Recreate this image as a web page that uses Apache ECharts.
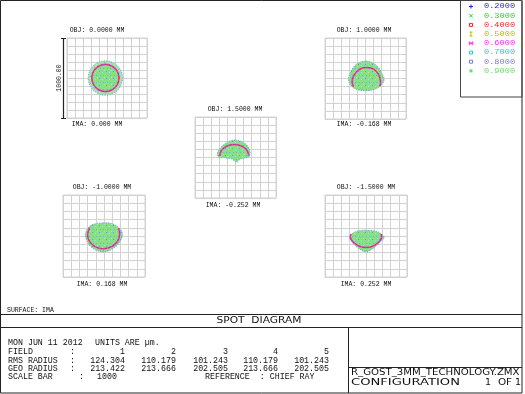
<!DOCTYPE html>
<html><head><meta charset="utf-8">
<script src="https://cdn.jsdelivr.net/npm/echarts@6/dist/echarts.min.js"></script>
<style>html,body{margin:0;padding:0;background:#fff}#c{width:525px;height:394px}</style>
</head><body><div id="c"></div>
<script>
// ---------- data ----------
const wavelengths = ['0.2000','0.3000','0.4000','0.5000','0.6000','0.7000','0.8000','0.9000'];
const fieldNumbers = ['1','2','3','4','5'];
const fieldObj = ['0.0000','1.0000','1.5000','-1.0000','-1.5000'];
const fieldIma = ['0.000','-0.168','-0.252','0.168','0.252'];
const rmsRadius = ['124.304','110.179','101.243','110.179','101.243'];
const geoRadius = ['213.422','213.666','202.505','213.666','202.505'];
const scaleBar = '1000';
const scaleBarLabel = '1000.00';
// spot outlines / inner rings in micrometres relative to chief ray
const outline1 = [[195,0],[166,108],[88,186],[-20,215],[-128,186],[-206,108],[-235,0],[-206,-108],[-128,-186],[-20,-215],[88,-186],[166,-108]];
const ring1 = [[150,0],[127,85],[65,147],[-20,170],[-105,147],[-167,85],[-190,0],[-167,-85],[-105,-147],[-20,-170],[65,-147],[127,-85]];
const outline2 = [[0,215],[-90,190],[-155,130],[-200,40],[-210,-20],[-180,-85],[-110,-135],[0,-150],[110,-135],[190,-90],[230,-20],[215,40],[165,130],[95,190]];
const ring2 = [[-150,-100],[-165,-30],[-130,60],[-60,120],[20,135],[100,115],[160,50],[185,-30],[180,-95]];
const outline3 = [[-5,215],[-80,200],[-150,155],[-200,100],[-225,50],[-205,5],[-120,-5],[-40,-20],[10,-60],[60,-20],[130,-5],[170,10],[180,70],[155,135],[115,175],[55,205]];
const ring3 = [[-195,20],[-175,85],[-110,140],[-10,160],[80,140],[140,90],[165,25]];
const outline4 = [[-10,160],[90,153],[170,112],[225,30],[195,-70],[112,-153],[-10,-195],[-133,-153],[-206,-70],[-226,30],[-182,112],[-110,148]];
const ring4 = [[-175,100],[-200,20],[-180,-60],[-110,-130],[-10,-155],[100,-125],[170,-55],[190,20],[180,95]];
const outline5 = [[-2,70],[92,63],[165,40],[222,-18],[173,-71],[112,-133],[-2,-194],[-112,-133],[-173,-71],[-202,-18],[-153,40],[-92,63]];
const ring5 = [[-185,25],[-190,-20],[-150,-80],[-80,-125],[0,-140],[80,-125],[150,-80],[190,-20],[185,25]];

// ---------- layout / style ----------
const spots = [
  {outline: outline1, ring: ring1, closed: true},
  {outline: outline2, ring: ring2, closed: false},
  {outline: outline3, ring: ring3, closed: false},
  {outline: outline4, ring: ring4, closed: false},
  {outline: outline5, ring: ring5, closed: false}
];
const boxes = [[67,38,80,80],[325,38,81,81],[195,117,81,81],[63,195,82,82],[325,195,82,82]];
const objLabelPos = [[97,30],[364,30],[235,109],[102,187],[366,187]];
const imaLabelPos = [[97,124],[364,124],[233,205],[102,284],[366,284]];
const wlColors = ['#1a1aff','#22dd22','#ff2222','#bdbd00','#ff22ff','#22cccc','#7777ee','#66dd66'];
const wlSymbols = ['plus','cross','square','ibar','bow','square','square','filled'];

// speckle pattern for spot fill
function makePattern(base, dots) {
  const c = document.createElement('canvas'); c.width = 7; c.height = 7;
  const g = c.getContext('2d'); g.fillStyle = base; g.fillRect(0,0,7,7);
  dots.forEach(d => { g.fillStyle = d[2]; g.fillRect(d[0], d[1], 1, 1); });
  return {image: c, repeat: 'repeat'};
}
const innerFill = makePattern('#86e086', [[1,1,'#7a8cf0'],[4,2,'#a8e0e0'],[2,5,'#66cc66'],[5,5,'#8f9cf2'],[6,0,'#aee8ae']]);
const outerFill = makePattern('#a2e6a2', [[0,2,'#88d0e8'],[3,4,'#7fdc7f'],[5,1,'#b8ecb8'],[6,6,'#90a8f0']]);

const font = s => s + 'px "Liberation Mono", "DejaVu Sans Mono", monospace';
const sans = s => s + 'px "DejaVu Sans", sans-serif';

const chart = echarts.init(document.getElementById('c'), null, {renderer: 'canvas'});

const axisCommon = {
  type: 'value', min: -500, max: 500, interval: 100,
  axisLine: {show: false}, axisTick: {show: false}, axisLabel: {show: false},
  splitLine: {show: true, lineStyle: {color: '#d2d2d2', width: 1}}
};

const series = spots.map((s, i) => ({
  type: 'custom', xAxisIndex: i, yAxisIndex: i, coordinateSystem: 'cartesian2d',
  data: s.outline, silent: true, animation: false, clip: false,
  renderItem: (params, api) => {
    if (params.dataIndex !== 0) return null;
    const pts = s.outline.map(p => api.coord(p));
    const rp = s.ring.map(p => api.coord(p));
    const ringType = s.closed ? 'polygon' : 'polyline';
    return {type: 'group', children: [
      {type: 'polygon', shape: {points: pts, smooth: 0.35},
        style: {fill: s.closed ? outerFill : innerFill, stroke: '#6f9ff2', lineWidth: 1, lineDash: [1, 1.5]}},
      {type: ringType, shape: {points: rp, smooth: 0.35},
        style: {fill: s.closed ? innerFill : null, stroke: '#f03cd2', lineWidth: 1.6}},
      {type: ringType, shape: {points: rp, smooth: 0.35},
        style: {fill: null, stroke: '#ff2020', lineWidth: 1, lineDash: [2, 2]}},
      {type: ringType, shape: {points: rp, smooth: 0.35},
        style: {fill: null, stroke: '#4a5cf0', lineWidth: 0.8, lineDash: [1, 3], lineDashOffset: 1}}
    ]};
  }
}));

// ---------- graphic: texts, frame, legend ----------
const G = [];
const line = (x1,y1,x2,y2,c,w) => G.push({type:'line', silent:true, shape:{x1,y1,x2,y2}, style:{stroke:c||'#222', lineWidth:w||1}});
const text = (t,x,y,f,opt) => G.push(Object.assign({type:'text', silent:true, x, y,
  style:Object.assign({text:t, font:f, fill:'#111', textAlign:'left', textVerticalAlign:'middle'}, (opt&&opt.style)||{})},
  opt && opt.el || {}));

// outer frame
G.push({type:'rect', silent:true, shape:{x:0.5,y:0.5,width:521.5,height:392.5}, style:{fill:null, stroke:'#222', lineWidth:1}});
// bottom table lines
line(0,314.5,522,314.5); line(0,327.5,522,327.5);
line(348.5,327.5,348.5,393); line(348.5,367.5,522,367.5);

// labels above/below boxes
fieldObj.forEach((v,i) => text('OBJ: ' + v + ' MM', objLabelPos[i][0], objLabelPos[i][1], font(6.5), {style:{textAlign:'center'}}));
fieldIma.forEach((v,i) => text('IMA: ' + v + ' MM', imaLabelPos[i][0], imaLabelPos[i][1], font(6.5), {style:{textAlign:'center'}}));

// scale bar
line(63.5,38,63.5,118,'#222',1.2); line(61,38.5,66,38.5,'#222',1); line(61,118.5,66,118.5,'#222',1);
text(scaleBarLabel, 59, 78, font(6.5), {style:{textAlign:'center'}, el:{rotation: Math.PI/2}});

text('SURFACE: IMA', 7, 310, font(6.5));
text('SPOT  DIAGRAM', 259, 321, sans(9.5), {style:{textAlign:'center'}, el:{scaleX:1.12}});

// table
const f8 = font(8.3);
text('MON JUN 11 2012', 8, 343, f8);
text('UNITS ARE \u00b5m.', 95, 343, f8);
text('FIELD', 8, 352, f8); text(':', 70, 352, f8);
text('RMS RADIUS', 8, 360.5, f8); text(':', 70, 360.5, f8);
text('GEO RADIUS', 8, 368.5, f8); text(':', 70, 368.5, f8);
text('SCALE BAR', 8, 377, f8); text(':', 79, 377, f8);
const colRight = [125,176,228,278,329];
fieldNumbers.forEach((v,i) => text(v, colRight[i], 352, f8, {style:{textAlign:'right'}}));
rmsRadius.forEach((v,i) => text(v, colRight[i], 360.5, f8, {style:{textAlign:'right'}}));
geoRadius.forEach((v,i) => text(v, colRight[i], 368.5, f8, {style:{textAlign:'right'}}));
text(scaleBar, 97, 377, f8);
text('REFERENCE  : CHIEF RAY', 205, 377, f8);

text('R_GOST_3MM_TECHNOLOGY.ZMX', 351, 373, sans(9.5), {el:{scaleX:1.07}});
text('CONFIGURATION', 351, 382.5, sans(9.5), {el:{scaleX:1.38}});
text('1', 488, 382.5, sans(9.5), {style:{textAlign:'center'}});
text('OF', 505, 382.5, sans(9.5), {style:{textAlign:'center'}, el:{scaleX:1.1}});
text('1', 518, 382.5, sans(9.5), {style:{textAlign:'center'}});

// legend box
G.push({type:'rect', silent:true, shape:{x:460.5,y:0.5,width:61.5,height:96.5}, style:{fill:null, stroke:'#444', lineWidth:1}});
wavelengths.forEach((w,i) => {
  const y = 6.5 + 9.2*i, x = 471, c = wlColors[i], k = wlSymbols[i];
  if (k === 'plus') { line(x-2,y,x+2,y,c); line(x,y-2,x,y+2,c); }
  else if (k === 'cross') { line(x-1.7,y-1.7,x+1.7,y+1.7,c); line(x-1.7,y+1.7,x+1.7,y-1.7,c); }
  else if (k === 'square') { G.push({type:'rect', silent:true, shape:{x:x-1.5,y:y-1.5,width:3,height:3}, style:{fill:null, stroke:c, lineWidth:1}}); }
  else if (k === 'ibar') { line(x,y-2,x,y+2,c); line(x-1.5,y-2,x+1.5,y-2,c); line(x-1.5,y+2,x+1.5,y+2,c); }
  else if (k === 'bow') { line(x-1.7,y-1.5,x+1.7,y+1.5,c); line(x-1.7,y+1.5,x+1.7,y-1.5,c); line(x-1.7,y-1.5,x-1.7,y+1.5,c); line(x+1.7,y-1.5,x+1.7,y+1.5,c); }
  else { G.push({type:'rect', silent:true, shape:{x:x-1.5,y:y-1.5,width:3,height:3}, style:{fill:c}}); }
  text(w, 484, y, font(7.2), {style:{fill:c}, el:{scaleX:1.2}});
});

chart.setOption({
  animation: false,
  backgroundColor: '#ffffff',
  grid: boxes.map(b => ({left:b[0], top:b[1], width:b[2], height:b[3], show:true, borderColor:'#d2d2d2', borderWidth:1, backgroundColor:'transparent'})),
  xAxis: boxes.map((b,i) => Object.assign({gridIndex:i}, axisCommon)),
  yAxis: boxes.map((b,i) => Object.assign({gridIndex:i}, axisCommon)),
  series: series,
  graphic: {elements: G}
});
</script>
</body></html>
